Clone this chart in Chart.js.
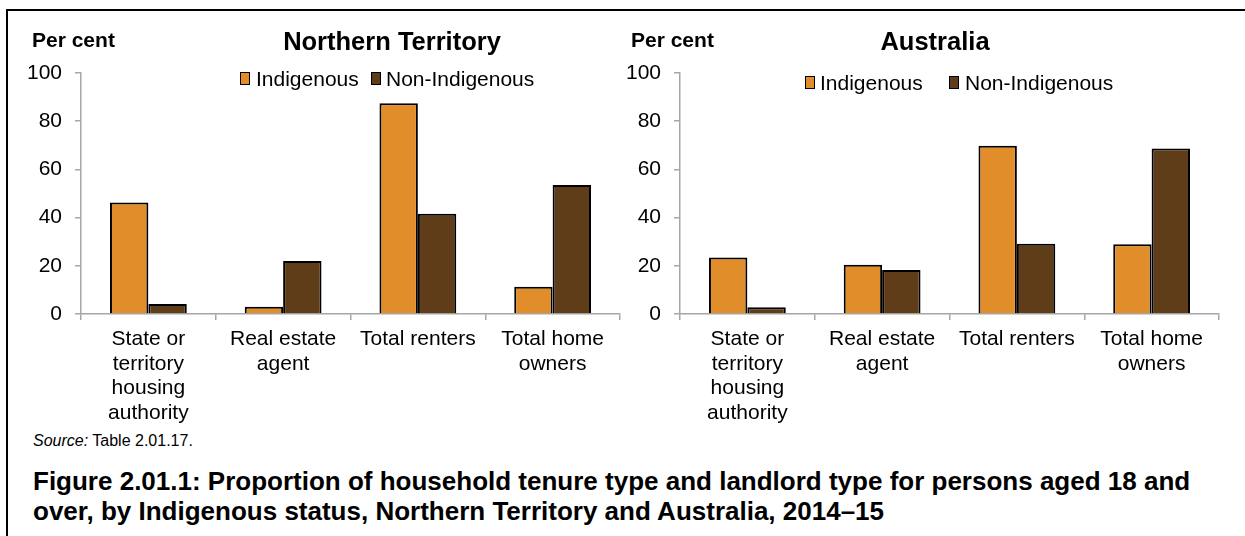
<!DOCTYPE html>
<html>
<head>
<meta charset="utf-8">
<script src="https://cdn.jsdelivr.net/npm/chart.js@4.4.1/dist/chart.umd.min.js"></script>
<style>
  html, body { margin: 0; padding: 0; background: #fff; }
  body { width: 1245px; height: 536px; position: relative; overflow: hidden; font-family: "Liberation Sans", Arial, sans-serif; color: #000; }
  .frame { position: absolute; left: 6px; top: 9px; width: 1300px; height: 600px; border-top: 2px solid #000; border-left: 2px solid #000; }
  canvas { position: absolute; top: 0; }
  .t { position: absolute; white-space: nowrap; line-height: 1; }
  .percent { font-weight: bold; font-size: 21px; }
  .title { font-weight: bold; font-size: 25.5px; transform: translateX(-50%); }
  .leg { position: absolute; font-size: 21px; white-space: nowrap; line-height: 1; }
  .sw { position: absolute; width: 8px; height: 11px; border: 1px solid #000; }
  .source { font-size: 16px; }
  .caption { position: absolute; left: 33px; top: 466px; width: 1200px; font-weight: bold; font-size: 26px; line-height: 30px; }
</style>
</head>
<body>
<div class="frame"></div>
<canvas id="nt" width="630" height="430" style="left:0px;width:630px;height:430px"></canvas>
<canvas id="au" width="630" height="430" style="left:599px;width:630px;height:430px"></canvas>

<div class="t percent" style="left:32px;top:29px">Per cent</div>
<div class="t percent" style="left:631px;top:29px">Per cent</div>
<div class="t title" style="left:392px;top:29px">Northern Territory</div>
<div class="t title" style="left:935px;top:29px">Australia</div>

<div id="legNT"></div>
<div id="legAU"></div>

<div class="t source" style="left:33px;top:433px"><i>Source:</i> Table 2.01.17.</div>
<div class="caption">Figure 2.01.1: Proportion of household tenure type and landlord type for persons aged 18 and<br>over, by Indigenous status, Northern Territory and Australia, 2014–15</div>

<script>
// ---- data ----
const categories = [["State or", "territory", "housing", "authority"], ["Real estate", "agent"], "Total renters", ["Total home", "owners"]];
const seriesNames = ["Indigenous", "Non-Indigenous"];
const ntIndigenous = [46.3, 3.0, 87.4, 11.3];
const ntNonIndigenous = [4.1, 22.0, 41.6, 53.5];
const auIndigenous = [23.4, 20.4, 69.8, 28.9];
const auNonIndigenous = [2.8, 18.3, 29.1, 68.7];
const yTickValues = [0, 20, 40, 60, 80, 100];

// ---- styles ----
const ORANGE = "#E18D29";
const BROWN = "#5F3D18";
const AXIS = "#A6A6A6";
const FONT = "'Liberation Sans', Arial, sans-serif";

function makeChart(id, indig, nonIndig) {
  return new Chart(document.getElementById(id), {
    type: "bar",
    data: {
      labels: categories,
      datasets: [
        { label: seriesNames[0], data: indig, backgroundColor: ORANGE, borderColor: "#000", borderWidth: 2, borderSkipped: "start" },
        { label: seriesNames[1], data: nonIndig, backgroundColor: BROWN, borderColor: "#000", borderWidth: 2, borderSkipped: "start" }
      ]
    },
    options: {
      responsive: false,
      animation: false,
      devicePixelRatio: 1,
      datasets: { bar: { categoryPercentage: 0.57, barPercentage: 1.0 } },
      layout: { padding: { left: 0, top: 73, right: 10, bottom: 0 } },
      plugins: { legend: { display: false }, tooltip: { enabled: false }, title: { display: false } },
      scales: {
        x: {
          offset: true,
          grid: { offset: true, drawOnChartArea: false, drawTicks: true, tickLength: 6, color: AXIS, lineWidth: 1.5 },
          border: { display: true, color: AXIS, width: 1.5 },
          ticks: { color: "#000", font: { family: FONT, size: 21, lineHeight: 1.17 }, padding: 7, maxRotation: 0, autoSkip: false },
          afterFit: s => { s.height = 116; }
        },
        y: {
          min: 0, max: 100,
          afterBuildTicks: s => { s.ticks = yTickValues.map(v => ({ value: v })); },
          grid: { drawOnChartArea: false, drawTicks: true, tickLength: 6, color: AXIS, lineWidth: 1.5 },
          border: { display: true, color: AXIS, width: 1.5 },
          ticks: { color: "#000", font: { family: FONT, size: 21 }, padding: 13 },
          afterFit: s => { s.width = 81; }
        }
      }
    }
  });
}

makeChart("nt", ntIndigenous, ntNonIndigenous);
makeChart("au", auIndigenous, auNonIndigenous);

// HTML legends built from series names
function legend(containerId, items) {
  const c = document.getElementById(containerId);
  items.forEach(it => {
    const sw = document.createElement("div");
    sw.className = "sw";
    sw.style.left = it.sx + "px"; sw.style.top = (it.y - 6) + "px"; sw.style.background = it.color;
    c.appendChild(sw);
    const tx = document.createElement("div");
    tx.className = "leg";
    tx.style.left = it.tx + "px"; tx.style.top = (it.y - 10) + "px";
    tx.textContent = it.text;
    c.appendChild(tx);
  });
}
legend("legNT", [
  { sx: 240, tx: 256, y: 78, color: ORANGE, text: seriesNames[0] },
  { sx: 371, tx: 386, y: 78, color: BROWN, text: seriesNames[1] }
]);
legend("legAU", [
  { sx: 805, tx: 820, y: 82, color: ORANGE, text: seriesNames[0] },
  { sx: 949, tx: 965, y: 82, color: BROWN, text: seriesNames[1] }
]);
</script>
</body>
</html>
